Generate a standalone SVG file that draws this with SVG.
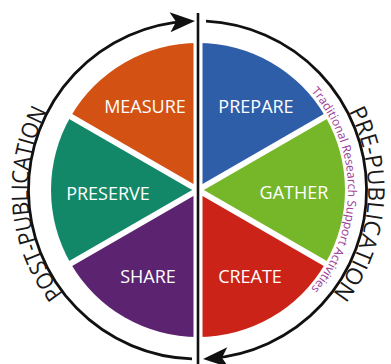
<svg xmlns="http://www.w3.org/2000/svg" width="391" height="364" viewBox="0 0 391 364">
  <style>
    .lbl { font-family: "Open Sans", "Liberation Sans", sans-serif; font-size: 18px; fill: #ffffff; text-anchor: middle; }
    .phase { font-family: "Open Sans", "Liberation Sans", sans-serif; font-size: 23px; fill: #1a1a1a; text-anchor: middle; }
    .trad { font-family: "Open Sans", "Liberation Sans", sans-serif; font-size: 12px; fill: #9c3c96; text-anchor: middle; }
    .cycle { fill: none; stroke: #111111; stroke-width: 2.8; marker-end: url(#arrow); }
    .gap { stroke: #ffffff; stroke-width: 6; fill: none; }
  </style>
  <defs>
    <marker id="arrow" markerUnits="userSpaceOnUse" orient="auto" refX="0" refY="0" markerWidth="40" markerHeight="40" overflow="visible">
      <path d="M6,0 L-19,-10 L-13,0 L-19,10 Z" fill="#111111"/>
    </marker>
    <path id="pathPre" d="M295.5,50.7 A170,170 0 0 1 269.8,344.1"/>
    <path id="pathPost" d="M126.2,344.1 A170,170 0 0 1 100.5,50.7"/>
    <path id="pathTrad" d="M273,60.1 A150,150 0 0 1 273,319.9"/>
  </defs>
  <rect width="391" height="364" fill="#ffffff"/>

  <g id="measure">
    <path d="M198,190 L198,43 A147,147 0 0 0 70.7,116.5 Z" fill="#d35213"/>
    <text class="lbl" x="145" y="113">MEASURE</text>
  </g>
  <g id="prepare">
    <path d="M198,190 L198,43 A147,147 0 0 1 325.3,116.5 Z" fill="#2f5ea8"/>
    <text class="lbl" x="256" y="113">PREPARE</text>
  </g>
  <g id="gather">
    <path d="M198,190 L325.3,116.5 A147,147 0 0 1 325.3,263.5 Z" fill="#76b72a"/>
    <text class="lbl" x="294" y="199">GATHER</text>
  </g>
  <g id="create">
    <path d="M198,190 L325.3,263.5 A147,147 0 0 1 198,337 Z" fill="#cc2318"/>
    <text class="lbl" x="250" y="283">CREATE</text>
  </g>
  <g id="share">
    <path d="M198,190 L198,337 A147,147 0 0 1 70.7,263.5 Z" fill="#5c2370"/>
    <text class="lbl" x="148" y="283">SHARE</text>
  </g>
  <g id="preserve">
    <path d="M198,190 L70.7,263.5 A147,147 0 0 1 70.7,116.5 Z" fill="#138868"/>
    <text class="lbl" x="108" y="200">PRESERVE</text>
  </g>

  <g id="gaps">
    <line class="gap" x1="59.4" y1="110" x2="336.6" y2="270"/>
    <line class="gap" x1="59.4" y1="270" x2="336.6" y2="110"/>
    <rect x="193.5" y="38" width="9" height="305" fill="#ffffff"/>
  </g>

  <g id="connectors">
    <line x1="198" y1="13" x2="198" y2="364" stroke="#111111" stroke-width="2.6"/>
    <path class="cycle" d="M192,358.9 A169,169 0 0 1 189,21.2"/>
    <path class="cycle" d="M206,21.2 A169,169 0 0 1 209,358.6"/>
  </g>

  <g id="trad-label">
    <text class="trad"><textPath href="#pathTrad" startOffset="50%">Traditional Research Support Activities</textPath></text>
  </g>
  <g id="pre-publication">
    <text class="phase"><textPath href="#pathPre" startOffset="50%" textLength="194" lengthAdjust="spacingAndGlyphs">PRE-PUBLICATION</textPath></text>
  </g>
  <g id="post-publication">
    <text class="phase"><textPath href="#pathPost" startOffset="50%" textLength="194" lengthAdjust="spacingAndGlyphs">POST-PUBLICATION</textPath></text>
  </g>
</svg>
